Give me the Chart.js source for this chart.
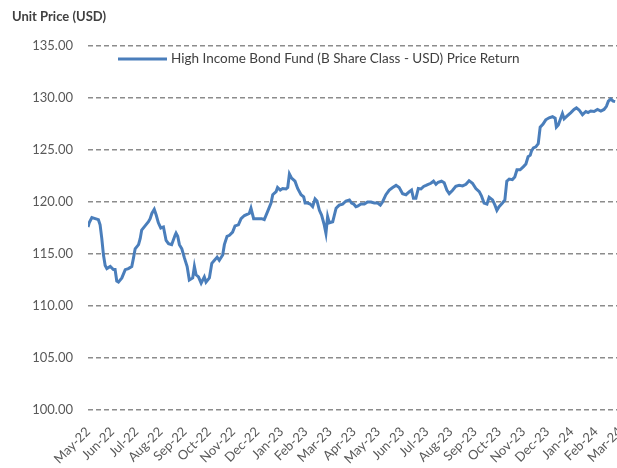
<!DOCTYPE html>
<html>
<head>
<meta charset="utf-8">
<title>High Income Bond Fund - Unit Price</title>
<script src="https://cdn.jsdelivr.net/npm/chart.js@4"></script>
<style>
  html, body { margin: 0; padding: 0; background: #fff; overflow: hidden; }
  #wrap { width: 637px; height: 468px; }
</style>
</head>
<body>
<div id="wrap"><canvas id="priceChart" width="637" height="468"></canvas></div>
<script>
const yTitle = 'Unit Price (USD)';
const seriesName = 'High Income Bond Fund (B Share Class - USD) Price Return';

const monthLabels = ['May-22', 'Jun-22', 'Jul-22', 'Aug-22', 'Sep-22', 'Oct-22', 'Nov-22', 'Dec-22',
  'Jan-23', 'Feb-23', 'Mar-23', 'Apr-23', 'May-23', 'Jun-23', 'Jul-23', 'Aug-23', 'Sep-23',
  'Oct-23', 'Nov-23', 'Dec-23', 'Jan-24', 'Feb-24', 'Mar-24'];

// position in months after 1 May 2022
const monthPos = [
  0.00, 0.05, 0.16, 0.30, 0.43, 0.50, 0.57, 0.64, 0.71, 0.78,
  0.92, 1.05, 1.12, 1.19, 1.26, 1.40, 1.54, 1.67, 1.81, 1.88,
  1.95, 2.09, 2.16, 2.22, 2.36, 2.50, 2.57, 2.64, 2.74, 2.82,
  2.91, 3.01, 3.12, 3.23, 3.33, 3.46, 3.60, 3.64, 3.71, 3.78,
  3.88, 3.99, 4.10, 4.19, 4.33, 4.40, 4.47, 4.57, 4.68, 4.81,
  4.88, 5.02, 5.12, 5.23, 5.34, 5.43, 5.57, 5.64, 5.75, 5.85,
  5.98, 6.08, 6.22, 6.33, 6.47, 6.67, 6.74, 6.85, 7.02, 7.18,
  7.29, 7.43, 7.57, 7.64, 7.78, 7.84, 7.95, 8.05, 8.19, 8.26,
  8.33, 8.42, 8.56, 8.67, 8.81, 8.92, 8.98, 9.08, 9.19, 9.29,
  9.39, 9.47, 9.57, 9.66, 9.77, 9.84, 9.91, 9.98, 10.12, 10.26,
  10.39, 10.53, 10.67, 10.81, 10.90, 10.99, 11.08, 11.15, 11.29, 11.43,
  11.56, 11.70, 11.84, 11.98, 12.09, 12.18, 12.32, 12.46, 12.60, 12.74,
  12.87, 13.01, 13.15, 13.29, 13.38, 13.46, 13.56, 13.66, 13.77, 13.88,
  13.98, 14.07, 14.18, 14.29, 14.39, 14.48, 14.62, 14.73, 14.84, 14.94,
  15.07, 15.21, 15.35, 15.49, 15.63, 15.76, 15.90, 16.04, 16.18, 16.27,
  16.38, 16.50, 16.59, 16.73, 16.83, 16.91, 17.00, 17.14, 17.24, 17.32,
  17.42, 17.55, 17.65, 17.74, 17.87, 18.01, 18.11, 18.20, 18.29, 18.34,
  18.42, 18.52, 18.62, 18.70, 18.82, 18.93, 19.07, 19.21, 19.32, 19.37,
  19.45, 19.55, 19.62, 19.69, 19.83, 19.97, 20.10, 20.20, 20.31, 20.45,
  20.59, 20.68, 20.79, 20.93, 21.07, 21.21, 21.34, 21.44, 21.52, 21.62,
  21.72, 21.80
];

const prices = [
  117.6, 118.0, 118.5, 118.4, 118.3, 117.8, 116.5, 114.9, 113.9, 113.6,
  113.8, 113.5, 113.5, 112.4, 112.3, 112.7, 113.5, 113.6, 113.8, 114.6,
  115.5, 115.9, 116.5, 117.3, 117.7, 118.1, 118.4, 118.9, 119.3, 118.75,
  118.0, 117.5, 117.6, 116.3, 116.0, 115.9, 116.8, 117.0, 116.7, 115.9,
  115.5, 114.6, 113.8, 112.5, 112.7, 113.8, 113.0, 112.8, 112.2, 112.8,
  112.3, 112.7, 114.1, 114.4, 114.7, 114.4, 114.9, 115.9, 116.7, 116.8,
  117.1, 117.7, 117.8, 118.4, 118.7, 118.9, 119.4, 118.4, 118.4, 118.4,
  118.3, 119.1, 119.9, 120.7, 121.0, 121.4, 121.15, 121.3, 121.25, 121.4,
  122.7, 122.3, 122.0, 121.3, 120.7, 120.5, 119.9, 119.9, 119.8, 119.55,
  120.3, 120.1, 119.2, 118.75, 117.8, 117.0, 118.6, 118.0, 118.1, 119.4,
  119.7, 119.8, 120.1, 120.2, 119.9, 119.8, 119.55, 119.6, 119.8, 119.8,
  120.0, 120.0, 119.9, 119.9, 119.7, 120.0, 120.7, 121.15, 121.4, 121.6,
  121.4, 120.8, 120.7, 121.0, 121.15, 120.35, 120.35, 121.3, 121.25, 121.5,
  121.6, 121.7, 121.8, 122.0, 121.7, 121.9, 122.0, 121.85, 121.15, 120.8,
  121.1, 121.5, 121.6, 121.55, 121.7, 122.05, 121.8, 121.3, 121.0, 120.6,
  119.9, 119.8, 120.45, 120.2, 119.7, 119.2, 119.55, 119.9, 120.2, 122.0,
  122.2, 122.15, 122.4, 123.1, 123.1, 123.4, 123.65, 124.35, 124.5, 124.9,
  125.2, 125.3, 125.6, 127.2, 127.5, 127.9, 128.1, 128.2, 128.05, 127.2,
  127.4, 128.05, 128.5, 128.0, 128.3, 128.6, 128.9, 129.05, 128.85, 128.4,
  128.7, 128.6, 128.75, 128.7, 128.9, 128.75, 128.9, 129.2, 129.7, 129.9,
  129.7, 129.65
];

const yMin = 100;
const yMax = 135;
const yStep = 5;

const FONT = 'Lato, "Open Sans", sans-serif';
const TICK_COLOR = '#595959';
const TEXT_COLOR = '#404040';
const LINE_COLOR = '#4a7ebb';

// title at top left + legend inside the plot area
const headerPlugin = {
  id: 'header',
  afterDraw(chart) {
    const ctx = chart.ctx;
    const ds = chart.data.datasets[0];
    const area = chart.chartArea;
    ctx.save();
    ctx.textBaseline = 'middle';
    ctx.fillStyle = TEXT_COLOR;
    ctx.font = 'bold 13px ' + FONT;
    ctx.fillText(yTitle, 12, 17);

    const ly = area.top + 13;
    const lx = area.left + 30;
    ctx.strokeStyle = ds.borderColor;
    ctx.lineWidth = ds.borderWidth;
    ctx.beginPath();
    ctx.moveTo(lx, ly);
    ctx.lineTo(lx + 49, ly);
    ctx.stroke();
    ctx.font = '13.5px ' + FONT;
    ctx.fillText(ds.label, lx + 53, ly);
    ctx.restore();
  }
};

const points = monthPos.map((m, i) => ({ x: m, y: prices[i] }));

new Chart(document.getElementById('priceChart'), {
  type: 'line',
  data: {
    datasets: [{
      label: seriesName,
      data: points,
      borderColor: LINE_COLOR,
      backgroundColor: LINE_COLOR,
      borderWidth: 3,
      pointRadius: 0,
      tension: 0,
      fill: false
    }]
  },
  options: {
    responsive: false,
    animation: false,
    layout: { padding: { top: 46, right: 6, left: 0, bottom: 0 } },
    plugins: {
      legend: { display: false },
      tooltip: { enabled: false }
    },
    scales: {
      x: {
        type: 'linear',
        min: 0,
        max: monthLabels.length - 1,
        grid: { display: false },
        border: { display: false },
        ticks: {
          stepSize: 1,
          autoSkip: false,
          maxTicksLimit: 40,
          minRotation: 45,
          maxRotation: 45,
          padding: 6,
          color: TICK_COLOR,
          font: { family: FONT, size: 13 },
          callback: (v) => monthLabels[v] || ''
        },
        afterFit: (scale) => { scale.height = 58; }
      },
      y: {
        min: yMin,
        max: yMax,
        grid: {
          color: '#8c8c8c',
          lineWidth: 1.5,
          drawTicks: false
        },
        border: { display: false, dash: [5, 3] },
        ticks: {
          stepSize: yStep,
          padding: 15,
          color: TICK_COLOR,
          font: { family: FONT, size: 13 },
          callback: (v) => v.toFixed(2)
        },
        afterFit: (scale) => { scale.width = 88; }
      }
    }
  },
  plugins: [headerPlugin]
});
</script>
</body>
</html>
